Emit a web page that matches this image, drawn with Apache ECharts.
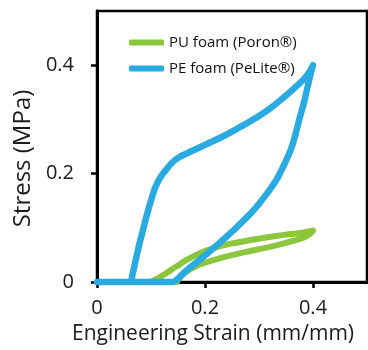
<!DOCTYPE html>
<html>
<head>
<meta charset="UTF-8">
<script src="https://cdn.jsdelivr.net/npm/echarts@6/dist/echarts.min.js"></script>
<style>
  html, body { margin: 0; padding: 0; background: #fff; }
  #chart { width: 368px; height: 350px; }
</style>
</head>
<body>
<div id="chart"></div>
<script>
  // PU foam (Poron) loading + unloading loop
  const puStrain = [0, 0.09, 0.1, 0.109, 0.118, 0.128, 0.146, 0.17, 0.2, 0.232, 0.26, 0.293, 0.325, 0.355, 0.38, 0.4,
                    0.392, 0.38, 0.36, 0.33, 0.293, 0.26, 0.232, 0.201, 0.183, 0.164, 0.152, 0.148];
  const puStress = [0, 0, 0.001, 0.005, 0.01, 0.016, 0.028, 0.043, 0.057, 0.067, 0.073, 0.079, 0.084, 0.088, 0.091, 0.095,
                    0.087, 0.081, 0.075, 0.067, 0.059, 0.052, 0.045, 0.036, 0.029, 0.018, 0.007, 0];

  // PE foam (PeLite) loading + unloading loop
  const peStrain = [0, 0.055, 0.062, 0.066, 0.072, 0.078, 0.0845, 0.09, 0.097, 0.103, 0.109, 0.118, 0.128, 0.14, 0.152, 0.168,
                    0.183, 0.2, 0.232, 0.26, 0.293, 0.32, 0.345, 0.37, 0.388, 0.4,
                    0.396, 0.39, 0.383, 0.376, 0.369, 0.361, 0.352, 0.341, 0.33, 0.31, 0.293, 0.27, 0.25, 0.228, 0.207,
                    0.188, 0.17, 0.156, 0.146, 0.14, 0.06];
  const peStress = [0, 0, 0.002, 0.015, 0.042, 0.068, 0.093, 0.115, 0.14, 0.16, 0.177, 0.194, 0.207, 0.221, 0.23, 0.238,
                    0.245, 0.253, 0.268, 0.283, 0.302, 0.32, 0.34, 0.362, 0.38, 0.4,
                    0.385, 0.36, 0.33, 0.305, 0.278, 0.25, 0.228, 0.205, 0.185, 0.157, 0.136, 0.112, 0.093, 0.073, 0.055,
                    0.039, 0.025, 0.012, 0.003, 0, 0];

  const xTicks = [0, 0.2, 0.4];
  const yTicks = [0, 0.2, 0.4];

  function pairs(xs, ys) {
    return xs.map(function (x, i) { return [x, ys[i]]; });
  }

  var myChart = echarts.init(document.getElementById('chart'));
  var font = 'Open Sans';
  var option = {
    animation: false,
    grid: { left: 97, top: 11, width: 270, height: 272, show: true, borderColor: '#000', borderWidth: 2.5, backgroundColor: 'transparent' },
    legend: {
      orient: 'vertical', left: 124, top: 30, itemWidth: 35, itemHeight: 6, itemGap: 11,
      icon: 'roundRect',
      textStyle: { fontFamily: font, fontSize: 15, color: '#111' },
      data: ['PU foam (Poron®)', 'PE foam (PeLite®)']
    },
    xAxis: {
      type: 'value', min: 0, max: 0.5,
      name: 'Engineering Strain (mm/mm)', nameLocation: 'middle', nameGap: 42,
      nameTextStyle: { fontFamily: font, fontSize: 21, color: '#1a1a1a', padding: [0, 38, 0, 0] },
      axisLine: { lineStyle: { color: '#000', width: 3 } },
      axisTick: { show: true, inside: false, length: 6, lineStyle: { color: '#000', width: 2.5 }, customValues: xTicks },
      axisLabel: { fontFamily: font, fontSize: 20, color: '#1a1a1a', margin: 16, customValues: xTicks },
      splitLine: { show: false }
    },
    yAxis: {
      type: 'value', min: 0, max: 0.5,
      name: 'Stress (MPa)', nameLocation: 'middle', nameGap: 60,
      nameTextStyle: { fontFamily: font, fontSize: 24, color: '#1a1a1a', padding: [0, 24, 0, 0] },
      axisLine: { lineStyle: { color: '#000', width: 3 } },
      axisTick: { show: true, inside: false, length: 6, lineStyle: { color: '#000', width: 2.5 }, customValues: yTicks },
      axisLabel: { fontFamily: font, fontSize: 20, color: '#1a1a1a', margin: 23, customValues: yTicks },
      splitLine: { show: false }
    },
    series: [
      {
        name: 'PU foam (Poron®)', type: 'line', data: pairs(puStrain, puStress),
        smooth: 0.5, showSymbol: false, clip: false,
        itemStyle: { color: '#8cc63f' },
        lineStyle: { color: '#8cc63f', width: 6, cap: 'round', join: 'round' }
      },
      {
        name: 'PE foam (PeLite®)', type: 'line', data: pairs(peStrain, peStress),
        smooth: 0.5, showSymbol: false, clip: false,
        itemStyle: { color: '#29abe2' },
        lineStyle: { color: '#29abe2', width: 6.5, cap: 'round', join: 'round' }
      }
    ]
  };
  myChart.setOption(option);
</script>
</body>
</html>
